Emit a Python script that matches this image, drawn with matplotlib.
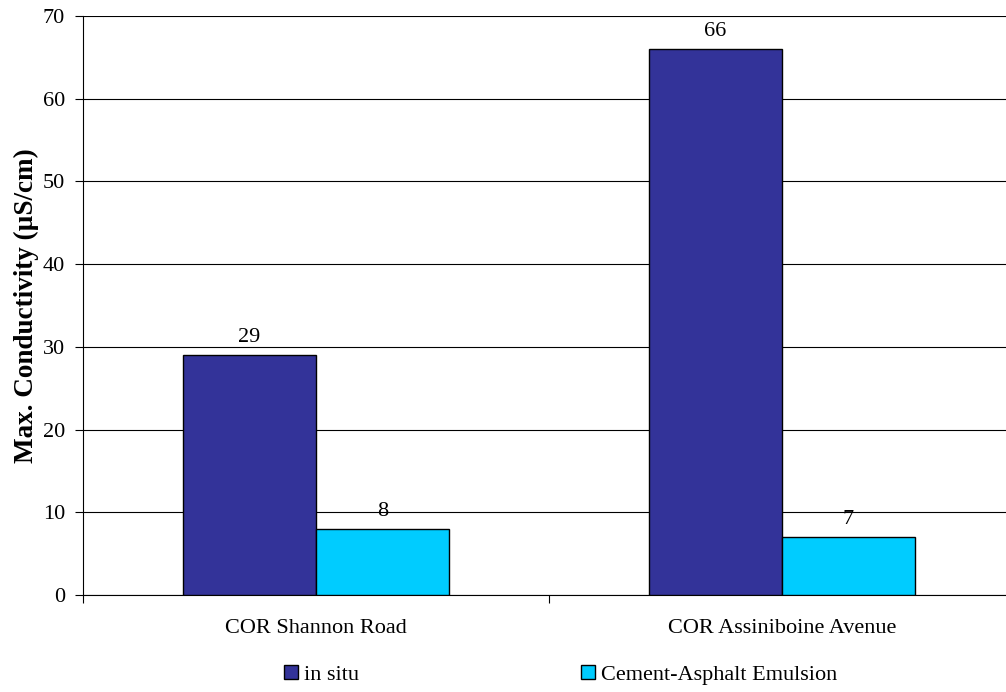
import matplotlib.pyplot as plt
import numpy as np

plt.rcParams['font.family'] = ['Liberation Serif', 'DejaVu Serif']

sites = ['COR Shannon Road', 'COR Assiniboine Avenue']
in_situ = [29, 66]
cement_asphalt = [8, 7]
series_names = ['in situ', 'Cement-Asphalt Emulsion']
colors = ['#333399', '#00CCFF']

fig = plt.figure(figsize=(10.06, 6.92), dpi=100)
# plot area runs off the right edge, like the original spreadsheet export
ax = fig.add_axes([83 / 1006, 1 - 595 / 692, 932 / 1006, 579 / 692])

x = np.arange(len(sites))
w = 0.285
for i, (vals, name, c) in enumerate(zip([in_situ, cement_asphalt], series_names, colors)):
    pos = x + (i - 1) * w
    bars = ax.bar(pos, vals, width=w, align='edge',
                  color=c, edgecolor='black', linewidth=1, label=name, zorder=3)
    for b, v in zip(bars, vals):
        ax.text(b.get_x() + b.get_width() / 2, v + 1.6, str(v),
                ha='center', va='baseline', fontsize=16, zorder=4)

ax.set_xlim(-0.5, 1.5)
ax.set_ylim(0, 70)
ax.set_yticks(range(0, 71, 10))
ax.yaxis.grid(True, color='black', linewidth=0.8, zorder=0)
ax.set_axisbelow(True)

# category boundaries get the tick marks, names sit at the centres
ax.set_xticks([-0.5, 0.5, 1.5])
ax.set_xticklabels([])
ax.set_xticks(x, minor=True)
ax.set_xticklabels(sites, minor=True, fontsize=16)
ax.tick_params(axis='x', which='minor', length=0, pad=17)
ax.tick_params(axis='x', which='major', length=6, width=0.8, direction='out')
ax.tick_params(axis='y', length=6, width=0.8, direction='out', labelsize=16, pad=7)

for s in ['top', 'right']:
    ax.spines[s].set_visible(False)
ax.spines['left'].set_linewidth(0.8)
ax.spines['bottom'].set_linewidth(0.8)

ax.set_ylabel('Max. Conductivity (µS/cm)', fontsize=19.5, fontweight='bold', labelpad=3)

handles, labels = ax.get_legend_handles_labels()
fig.legend(handles, labels, loc='center', bbox_to_anchor=(561 / 1006, 1 - 675 / 692),
           ncol=2, frameon=False, fontsize=16, handlelength=0.6, handleheight=0.6,
           handletextpad=0.3, columnspacing=10.0, borderpad=0)

fig.savefig('out.png', dpi=100)
